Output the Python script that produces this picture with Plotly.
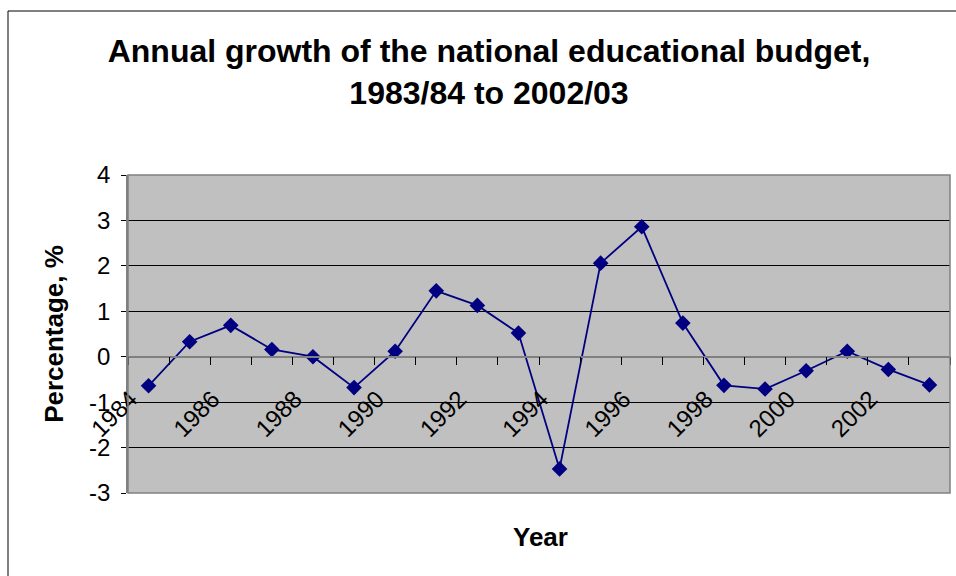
import plotly.graph_objects as go

years = list(range(1984, 2004))
growth = [-0.64, 0.33, 0.69, 0.16, 0.0, -0.68, 0.12, 1.45, 1.13, 0.52,
          -2.47, 2.06, 2.86, 0.74, -0.63, -0.71, -0.31, 0.12, -0.28, -0.62]
label_years = list(range(1984, 2003, 2))
label_text = [str(y) for y in label_years]
y_ticks = [-3, -2, -1, 0, 1, 2, 3, 4]
y_text = [str(v) for v in y_ticks]

W, H = 956, 576
L, R, T, B = 128, 950, 175, 493
pw, ph = R - L, B - T

fig = go.Figure()
fig.add_trace(go.Scatter(
    x=years, y=growth, mode="lines+markers",
    line=dict(color="#000080", width=1.8),
    marker=dict(symbol="diamond", size=12, color="#000080"),
    showlegend=False, cliponaxis=False,
))

fig.update_layout(
    width=W, height=H,
    margin=dict(l=L, r=W - R, t=T, b=H - B),
    paper_bgcolor="white", plot_bgcolor="#C0C0C0",
    font=dict(family="Liberation Sans, Arial, sans-serif", color="black"),
    title=dict(
        text="<b>Annual growth of the national educational budget,<br>1983/84 to 2002/03</b>",
        font=dict(size=32, color="black"),
        x=489 / W, xref="container", xanchor="center",
        y=1 - 62 / H, yref="container", yanchor="top",
    ),
    xaxis=dict(
        range=[1983.5, 2003.5], anchor="free", position=3 / 7,
        showgrid=False, zeroline=False,
        showline=True, linecolor="#808080", linewidth=1.5,
        tickmode="array", tickvals=label_years, ticktext=label_text,
        ticks="", tickangle=-45, tickfont=dict(size=24),
        ticklabelstandoff=18, ticklabelshift=-18,
        minor=dict(tickmode="array", tickvals=[y + 0.5 for y in range(1983, 2004)],
                   ticks="outside", ticklen=8, tickcolor="black", tickwidth=1,
                   showgrid=False),
    ),
    yaxis=dict(
        range=[-3, 4], tickmode="array", tickvals=y_ticks, ticktext=y_text,
        showgrid=True, gridcolor="black", gridwidth=1, zeroline=False,
        showline=True, linecolor="#808080", linewidth=1.5,
        ticks="outside", ticklen=5, tickcolor="black", tickfont=dict(size=24),
        ticklabelstandoff=6,
        title=dict(text="<b>Percentage, %</b>", font=dict(size=26), standoff=18),
    ),
    shapes=[
        dict(type="rect", xref="paper", yref="paper", x0=0, y0=0, x1=1, y1=1,
             line=dict(color="#808080", width=1.5), layer="above"),
        dict(type="rect", xref="paper", yref="paper",
             x0=(8 - L) / pw, x1=(1200 - L) / pw,
             y0=(B - 900) / ph, y1=(B - 11) / ph,
             line=dict(color="black", width=1), layer="above"),
    ],
    annotations=[
        dict(text="<b>Year</b>", xref="paper", yref="paper",
             x=(540 - L) / pw, y=(B - 537) / ph, xanchor="center", yanchor="middle",
             showarrow=False, font=dict(size=26, color="black")),
    ],
)

fig.write_html("out.html", config={"displayModeBar": False},
               post_script="document.body.style.margin='0';document.body.style.overflow='hidden';")
